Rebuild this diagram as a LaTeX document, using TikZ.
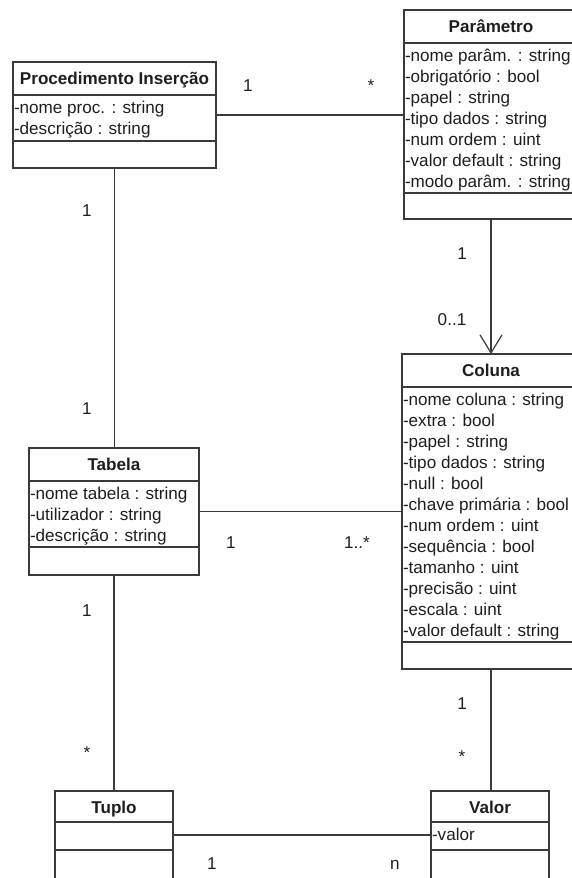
\documentclass[tikz,border=0pt]{standalone}
\usepackage{fontspec}
\setmainfont{Liberation Sans}
\usepackage{tikz}
\usetikzlibrary{arrows.meta}
\definecolor{uml_line}{HTML}{3A3A3A}
\definecolor{uml_text}{HTML}{1E1E1E}
\newcommand{\umlfont}{\fontsize{17.1pt}{21pt}\selectfont}

\begin{document}
\begin{tikzpicture}[
    x=1pt, y=-1pt,
    every node/.append style={font=\umlfont, text=uml_text},
    umlbox/.style={draw=uml_line, line width=1.5pt, anchor=north west, inner sep=0pt, outer sep=0pt},
    umlsep/.style={draw=uml_line, line width=1.5pt},
    umltitle/.style={font=\umlfont\bfseries, anchor=base, inner sep=0pt},
    umlattr/.style={anchor=base west, inner sep=0pt, xshift=0.8pt},
    assoc/.style={draw=uml_line, line width=1.2pt},
    mult/.style={anchor=base, inner sep=0pt}
]
\useasboundingbox (0,0) rectangle (571,878);

% --- Klassen ---
\node[umlbox, minimum width=203pt, minimum height=106pt] (proc)   at (13,62)   {};
\node[umlbox, minimum width=174pt, minimum height=209pt] (param)  at (404,10)  {};
\node[umlbox, minimum width=170pt, minimum height=127pt] (tabela) at (29,448)  {};
\node[umlbox, minimum width=178pt, minimum height=315pt] (coluna) at (402,354) {};
\node[umlbox, minimum width=118pt, minimum height=88pt]  (tuplo)  at (55,791)  {};
\node[umlbox, minimum width=118pt, minimum height=88pt]  (valor)  at (431,791) {};

% --- Trennlinien ---
\foreach \c/\a/\b in {proc/33/79, param/33/183, tabela/33/99, coluna/33/288, tuplo/31/59, valor/31/59} {
    \draw[umlsep] ([yshift=-\a pt]\c.north west) -- ([yshift=-\a pt]\c.north east);
    \draw[umlsep] ([yshift=-\b pt]\c.north west) -- ([yshift=-\b pt]\c.north east);
}

% --- Titel ---
\node[umltitle] (proc-title)   at ([yshift=-22pt]proc.north)   {Procedimento Inserção};
\node[umltitle] (param-title)  at ([yshift=-22pt]param.north)  {Parâmetro};
\node[umltitle] (tabela-title) at ([yshift=-22pt]tabela.north) {Tabela};
\node[umltitle] (coluna-title) at ([yshift=-22pt]coluna.north) {Coluna};
\node[umltitle] (tuplo-title)  at ([yshift=-22pt]tuplo.north)  {Tuplo};
\node[umltitle] (valor-title)  at ([yshift=-22pt]valor.north)  {Valor};

% --- Attribute ---
\foreach \t [count=\i] in {-nome proc. : string, -descrição : string}
    \node[umlattr] (proc-a\i) at ([yshift={-30pt-21pt*\i}]proc.north west) {\t};
\foreach \t [count=\i] in {-nome parâm. : string, -obrigatório : bool, -papel : string,
        -tipo dados : string, -num ordem : uint, -valor default : string, -modo parâm. : string}
    \node[umlattr] (param-a\i) at ([yshift={-30pt-21pt*\i}]param.north west) {\t};
\foreach \t [count=\i] in {-nome tabela : string, -utilizador : string, -descrição : string}
    \node[umlattr] (tabela-a\i) at ([yshift={-30pt-21pt*\i}]tabela.north west) {\t};
\foreach \t [count=\i] in {-nome coluna : string, -extra : bool, -papel : string,
        -tipo dados : string, -null : bool, -chave primária : bool, -num ordem : uint,
        -sequência : bool, -tamanho : uint, -precisão : uint, -escala : uint,
        -valor default : string}
    \node[umlattr] (coluna-a\i) at ([yshift={-30pt-21pt*\i}]coluna.north west) {\t};
\node[umlattr] (valor-a1) at ([yshift=-49pt]valor.north west) {-valor};

% --- Assoziationen ---
\draw[assoc] (proc.east) -- (proc.east -| param.west);
\draw[assoc, -{Straight Barb[length=18pt, width=22pt]}] (param.south) -- (coluna.north);
\draw[assoc] (proc.south) -- (proc.south |- tabela.north);
\draw[assoc] (tabela.east) -- (tabela.east -| coluna.west);
\draw[assoc] (tabela.south) -- (tabela.south |- tuplo.north);
\draw[assoc] (coluna.south) -- (coluna.south |- valor.north);
\draw[assoc] (tuplo.east) -- (tuplo.east -| valor.west);

% --- Multiplizitaeten ---
\node[mult] (m-proc-p)   at (248,91)  {1};
\node[mult] (m-param-p)  at (371,91)  {*};
\node[mult] (m-param-c)  at (462,259) {1};
\node[mult] (m-coluna-p) at (452,325) {0..1};
\node[mult] (m-proc-t)   at (87,216)  {1};
\node[mult] (m-tabela-p) at (87,414)  {1};
\node[mult] (m-tabela-c) at (231,548) {1};
\node[mult] (m-coluna-t) at (357,548) {1..*};
\node[mult] (m-tabela-u) at (87,616)  {1};
\node[mult] (m-tuplo-t)  at (87,758)  {*};
\node[mult] (m-coluna-v) at (462,709) {1};
\node[mult] (m-valor-c)  at (462,762) {*};
\node[mult] (m-tuplo-v)  at (212,869) {1};
\node[mult] (m-valor-u)  at (395,869) {n};

\end{tikzpicture}
\end{document}
